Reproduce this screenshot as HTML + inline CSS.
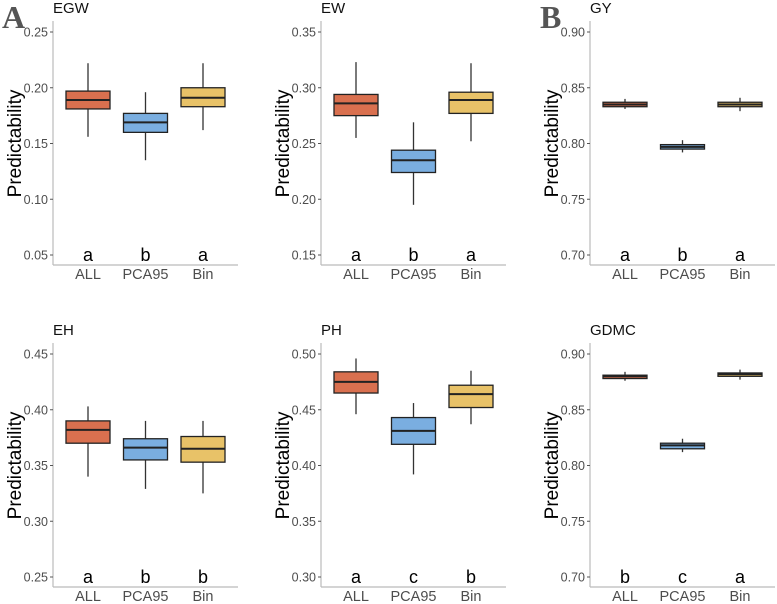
<!DOCTYPE html>
<html><head><meta charset="utf-8">
<style>
body{margin:0;background:#fff;}
svg{display:block;font-family:"Liberation Sans",sans-serif;}
</style></head>
<body>
<svg id="chart" width="777" height="604" viewBox="0 0 777 604"></svg>
<script>
const categories = ["ALL","PCA95","Bin"];
const panelTitles = ["EGW","EW","GY","EH","PH","GDMC"];
const yMins = [0.05,0.15,0.70,0.25,0.30,0.70];
const yMaxs = [0.25,0.35,0.90,0.45,0.50,0.90];
const tickLabels = [
 ["0.05","0.10","0.15","0.20","0.25"],
 ["0.15","0.20","0.25","0.30","0.35"],
 ["0.70","0.75","0.80","0.85","0.90"],
 ["0.25","0.30","0.35","0.40","0.45"],
 ["0.30","0.35","0.40","0.45","0.50"],
 ["0.70","0.75","0.80","0.85","0.90"]
];
// each: [min, q1, median, q3, max] per category
const statsEGW = [[0.156,0.181,0.189,0.197,0.222],[0.135,0.160,0.169,0.177,0.196],[0.162,0.183,0.191,0.200,0.222]];
const statsEW = [[0.255,0.275,0.286,0.294,0.323],[0.195,0.224,0.235,0.244,0.269],[0.252,0.277,0.289,0.296,0.322]];
const statsGY = [[0.831,0.833,0.835,0.837,0.840],[0.792,0.795,0.797,0.799,0.803],[0.829,0.833,0.835,0.837,0.841]];
const statsEH = [[0.340,0.370,0.382,0.390,0.403],[0.329,0.355,0.366,0.374,0.390],[0.325,0.353,0.365,0.376,0.390]];
const statsPH = [[0.446,0.465,0.475,0.484,0.496],[0.392,0.419,0.431,0.443,0.456],[0.437,0.452,0.464,0.472,0.485]];
const statsGDMC = [[0.876,0.878,0.880,0.881,0.884],[0.812,0.815,0.818,0.820,0.824],[0.877,0.880,0.882,0.883,0.886]];
const sigLetters = [["a","b","a"],["a","b","a"],["a","b","a"],["a","b","b"],["a","c","b"],["b","c","a"]];

const allStats = [statsEGW,statsEW,statsGY,statsEH,statsPH,statsGDMC];
const fills = ["#d9704f","#7aaee0","#e8c268"];
const axisXs = [53,321,590];
const rowTops = [32,354];
const NS = "http://www.w3.org/2000/svg";
const svg = document.getElementById('chart');
function mk(tag, attrs, parent){const e=document.createElementNS(NS,tag);for(const k in attrs)e.setAttribute(k,attrs[k]);(parent||svg).appendChild(e);return e;}

for(let p=0;p<6;p++){
  const col=p%3,row=Math.floor(p/3);
  const ax=axisXs[col], top=rowTops[row], bot=top+223;
  const g=mk('g',{});
  
  
  const yS=v=>bot-(v-yMins[p])/(yMaxs[p]-yMins[p])*223;
  const xS=i=>ax+35+i*57.5;
  const ya=mk('line',{x1:ax,y1:top-11,x2:ax,y2:bot+10,stroke:'#bbb','stroke-width':1.2},g);
  
  const xa=mk('line',{x1:ax,y1:bot+10,x2:ax+185,y2:bot+10,stroke:'#bbb','stroke-width':1.2},g);
  
  tickLabels[p].forEach((t,i)=>{
    const v=yMins[p]+i*(yMaxs[p]-yMins[p])/4, y=yS(v);
    mk('line',{x1:ax-3,y1:y,x2:ax,y2:y,stroke:'#555'},g);
    const tx=mk('text',{x:ax-5,y:y+4.5,'text-anchor':'end','font-size':12.5,fill:'#4d4d4d'},g);
    tx.textContent=t;
    
  });
  const ti=mk('text',{x:ax,y:top-19,'font-size':15,fill:'#111'},g);
  ti.textContent=panelTitles[p];
  
  const yt=mk('text',{x:0,y:0,'font-size':19,fill:'#000','text-anchor':'middle',transform:`translate(${ax-32},${(top+bot)/2}) rotate(-90)`},g);
  yt.textContent='Predictability';
  
  categories.forEach((c,i)=>{
    const s=allStats[p][i], cx=xS(i);
    const xl=mk('text',{x:cx,y:bot+24,'text-anchor':'middle','font-size':14.5,fill:'#4d4d4d'},g);
    xl.textContent=c;
    
    const wh=mk('line',{x1:cx,y1:yS(s[0]),x2:cx,y2:yS(s[4]),stroke:'#333','stroke-width':1.3},g);
    
    const bx=mk('rect',{x:cx-22,y:yS(s[3]),width:44,height:Math.max(yS(s[1])-yS(s[3]),1),fill:fills[i],stroke:'#222','stroke-width':1.3},g);
    
    const md=mk('line',{x1:cx-22,y1:yS(s[2]),x2:cx+22,y2:yS(s[2]),stroke:'#222','stroke-width':2},g);
    
    const lt=mk('text',{x:cx,y:bot+6,'text-anchor':'middle','font-size':18,fill:'#000'},g);
    lt.textContent=sigLetters[p][i];
    
  });
}
const A=mk('text',{x:2,y:28,'font-size':32,'font-weight':'bold','font-family':'Liberation Serif,serif',fill:'#555'});
A.textContent='A';
const B=mk('text',{x:540,y:28,'font-size':32,'font-weight':'bold','font-family':'Liberation Serif,serif',fill:'#555'});
B.textContent='B';
</script>
</body></html>
